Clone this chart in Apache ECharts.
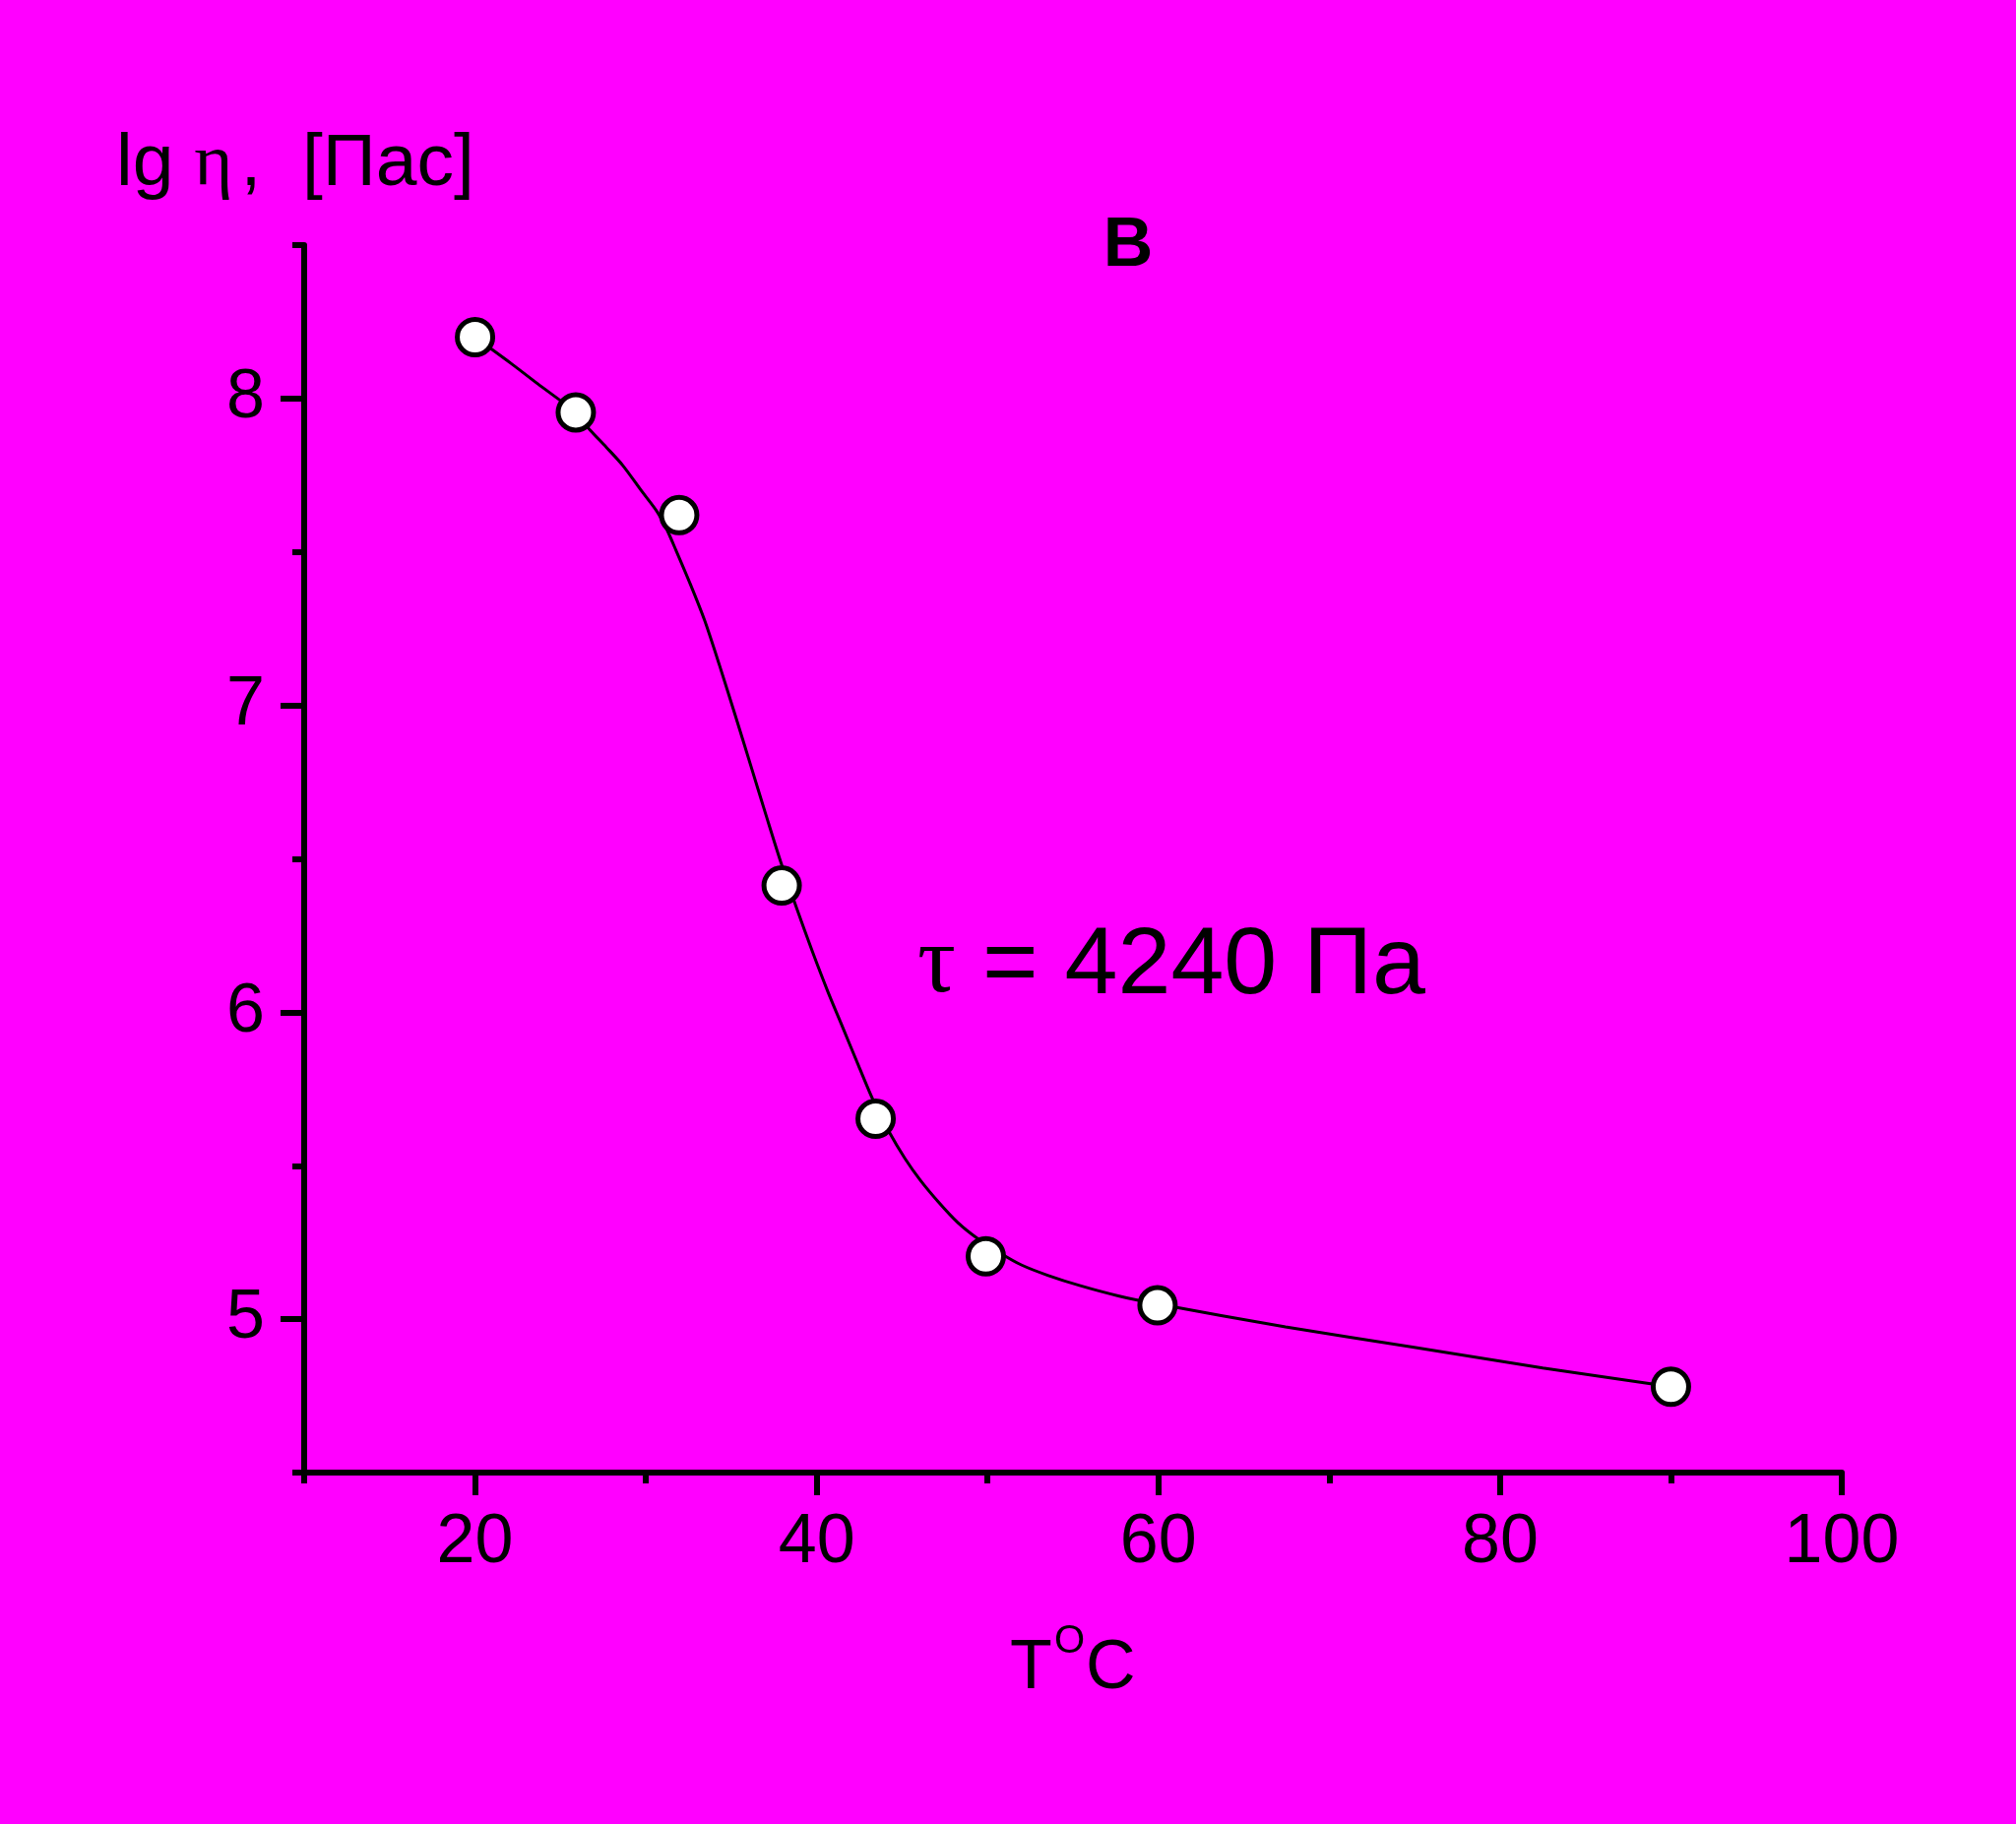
<!DOCTYPE html>
<html>
<head>
<meta charset="utf-8">
<style>
  html, body { margin: 0; padding: 0; background: #ff00ff; }
  #chart { width: 2048px; height: 1853px; }
</style>
<script src="https://cdn.jsdelivr.net/npm/echarts@6/dist/echarts.min.js"></script>
</head>
<body>
<div id="chart"></div>
<script>
const temperatures = [20, 25.9, 31.95, 37.95, 43.45, 49.9, 59.95, 90];
const lgViscosity = [8.2, 7.955, 7.62, 6.413, 5.653, 5.205, 5.045, 4.78];
// Fitted curve drawn in the reference
const curveT  = [20.0, 22.12, 23.67, 25.89, 26.74, 27.69, 28.65, 29.80, 30.66, 31.23, 31.76, 32.59, 33.42, 34.32, 35.22, 36.13, 37.03, 37.93, 38.84, 39.74, 40.64, 41.55, 42.45, 43.35, 44.26, 45.16, 46.06, 47.12, 48.25, 49.38, 50.66, 52.01, 53.52, 55.43, 57.65, 59.91, 67.44, 74.97, 82.50, 90.0];
const curveLg = [8.2, 8.114, 8.048, 7.954, 7.897, 7.841, 7.782, 7.695, 7.631, 7.573, 7.506, 7.397, 7.280, 7.129, 6.970, 6.806, 6.643, 6.484, 6.337, 6.199, 6.069, 5.947, 5.826, 5.708, 5.608, 5.524, 5.453, 5.382, 5.315, 5.264, 5.218, 5.176, 5.143, 5.109, 5.076, 5.050, 4.975, 4.908, 4.841, 4.78];
const xMajorTicks = [20, 40, 60, 80, 100];
const yMajorTicks = [5, 6, 7, 8];
const yAxisTitle = ['lg ', 'η', ',  [Пас]'];
const panelLabel = 'В';
const annotation = ['τ', ' = 4240 Па'];
const xAxisTitle = ['T', 'O', 'C'];

const points = temperatures.map((t, i) => [t, lgViscosity[i]]);
const curve = curveT.map((t, i) => [t, curveLg[i]]);

const sans = 'Liberation Sans, Arial, sans-serif';
const serif = 'Liberation Serif, Times New Roman, serif';

const chart = echarts.init(document.getElementById('chart'), null, { renderer: 'canvas' });

const axisLineStyle = { show: true, lineStyle: { color: '#000', width: 6 } };

chart.setOption({
  backgroundColor: '#ff00ff',
  animation: false,
  grid: { left: 309, right: 177, top: 249, bottom: 357 },
  xAxis: [
    {
      type: 'value', min: 10, max: 100, interval: 10,
      axisLine: axisLineStyle,
      axisTick: { show: true, inside: false, length: 11, lineStyle: { color: '#000', width: 6 } },
      axisLabel: {
        show: true, margin: 37, color: '#000', fontSize: 70, fontFamily: sans,
        formatter: v => (xMajorTicks.indexOf(v) >= 0 ? String(v) : '')
      },
      splitLine: { show: false }
    },
    {
      type: 'value', min: 10, max: 100, position: 'bottom',
      axisLine: { show: false },
      axisTick: { show: true, inside: false, length: 23, customValues: xMajorTicks, lineStyle: { color: '#000', width: 6 } },
      axisLabel: { show: false },
      splitLine: { show: false }
    }
  ],
  yAxis: [
    {
      type: 'value', min: 4.5, max: 8.5, interval: 0.5,
      axisLine: axisLineStyle,
      axisTick: { show: true, inside: false, length: 12, lineStyle: { color: '#000', width: 6 } },
      axisLabel: {
        show: true, margin: 40, color: '#000', fontSize: 70, fontFamily: sans,
        padding: [0, 0, 10, 0],
        formatter: v => (yMajorTicks.indexOf(v) >= 0 ? String(v) : '')
      },
      splitLine: { show: false }
    },
    {
      type: 'value', min: 4.5, max: 8.5, position: 'left',
      axisLine: { show: false },
      axisTick: { show: true, inside: false, length: 24, customValues: yMajorTicks, lineStyle: { color: '#000', width: 6 } },
      axisLabel: { show: false },
      splitLine: { show: false }
    }
  ],
  series: [
    {
      type: 'line',
      xAxisIndex: 0, yAxisIndex: 0,
      data: curve,
      smooth: 0.3,
      showSymbol: false,
      symbol: 'none',
      lineStyle: { color: '#000', width: 3 },
      z: 3
    },
    {
      type: 'scatter',
      xAxisIndex: 0, yAxisIndex: 0,
      data: points,
      symbol: 'circle',
      symbolSize: 36,
      itemStyle: { color: '#fff', borderColor: '#000', borderWidth: 5, opacity: 1 },
      z: 5
    }
  ],
  graphic: [
    {
      type: 'text', x: 118, y: 167,
      style: {
        text: '{a|' + yAxisTitle[0] + '}{g|' + yAxisTitle[1] + '}{a|' + yAxisTitle[2] + '}',
        textAlign: 'left', textVerticalAlign: 'middle',
        rich: {
          a: { fontFamily: sans, fontSize: 75, fill: '#000', color: '#000' },
          g: { fontFamily: serif, fontSize: 75, fill: '#000', color: '#000', padding: [0, 8, 0, 0] }
        }
      }
    },
    {
      type: 'text', x: 1146, y: 251,
      style: {
        text: panelLabel, fontFamily: sans, fontSize: 70, fontWeight: 'bold', fill: '#000',
        textAlign: 'center', textVerticalAlign: 'middle'
      }
    },
    {
      type: 'text', x: 932, y: 982,
      style: {
        text: '{g|' + annotation[0] + '}{a|' + annotation[1] + '}',
        textAlign: 'left', textVerticalAlign: 'middle',
        rich: {
          a: { fontFamily: sans, fontSize: 97, fill: '#000', color: '#000' },
          g: { fontFamily: serif, fontSize: 97, fill: '#000', color: '#000' }
        }
      }
    },
    {
      type: 'text', x: 1026, y: 1696,
      style: { text: xAxisTitle[0], fontFamily: sans, fontSize: 70, fill: '#000', textAlign: 'left', textVerticalAlign: 'middle' }
    },
    {
      type: 'text', x: 1071, y: 1668,
      style: { text: xAxisTitle[1], fontFamily: sans, fontSize: 40, fill: '#000', textAlign: 'left', textVerticalAlign: 'middle' }
    },
    {
      type: 'text', x: 1103, y: 1696,
      style: { text: xAxisTitle[2], fontFamily: sans, fontSize: 70, fill: '#000', textAlign: 'left', textVerticalAlign: 'middle' }
    }
  ]
});
</script>
</body>
</html>
